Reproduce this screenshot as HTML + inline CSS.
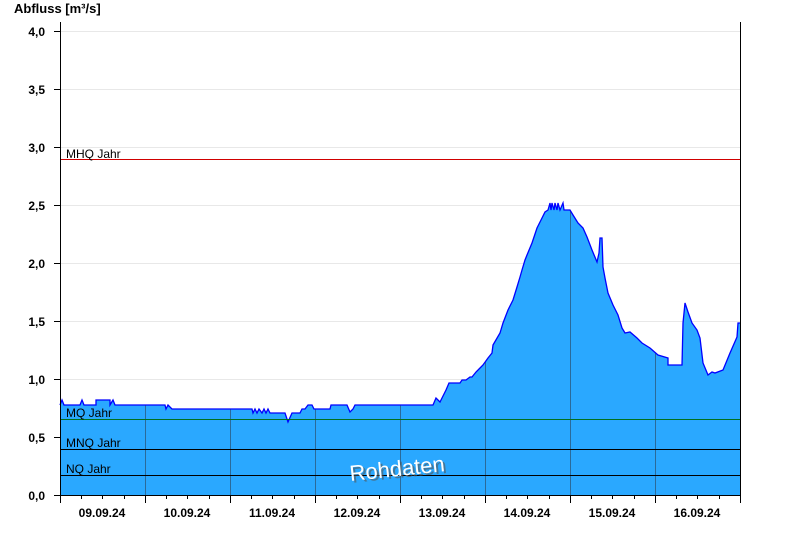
<!DOCTYPE html>
<html><head><meta charset="utf-8"><style>body{margin:0;background:#fff}svg{display:block}</style></head><body>
<svg width="800" height="550" xmlns="http://www.w3.org/2000/svg" font-family="Liberation Sans, Arial, sans-serif">
<defs>
<clipPath id="c"><path id="p" d="M60,495 L60,405 L62,400 L64,405 L80,405 L82,400 L84,405 L96,405 L96,400 L110,400 L110,405 L113,400 L115,405 L165,405 L166,409 L168,405 L172,409 L252,409 L253,413 L255,409 L257,413 L259,409 L262,413 L264,409 L266,413 L268,409 L270,413 L285,413 L288,422 L292,413 L300,413 L302,409 L305,409 L308,405 L312,405 L314,409 L330,409 L331,405 L347,405 L350,412 L353,409 L355,405 L433,405 L436,398 L440,402 L443,396 L446,390 L449,383 L460,383 L462,380 L466,380 L470,377 L472,377 L476,372 L480,368 L483,365 L488,358 L492,353 L493,345 L500,333 L503,323 L508,310 L513,300 L517,287 L520,277 L522,270 L525,260 L527,255 L532,243 L537,228 L542,218 L545,212 L548,210 L550,203 L551,210 L552,203 L554,210 L555,203 L557,210 L558,203 L560,210 L563,203 L564,210 L570,210 L573,215 L578,223 L583,228 L587,237 L592,250 L597,262 L599,253 L600,238 L602,238 L603,267 L605,278 L608,293 L613,305 L618,315 L622,328 L625,333 L630,332 L637,338 L642,343 L650,348 L658,355 L668,358 L668,365 L682,365 L683,323 L685,303 L688,312 L692,323 L697,330 L700,338 L703,363 L708,375 L712,372 L715,373 L723,370 L730,353 L737,337 L738,323 L740,323 L740,495 Z"/></clipPath>
</defs>
<g stroke="#e8e8e8" stroke-width="1">
<line x1="60" y1="437.5" x2="740" y2="437.5"/><line x1="60" y1="379.5" x2="740" y2="379.5"/><line x1="60" y1="321.5" x2="740" y2="321.5"/><line x1="60" y1="263.5" x2="740" y2="263.5"/><line x1="60" y1="205.5" x2="740" y2="205.5"/><line x1="60" y1="147.5" x2="740" y2="147.5"/><line x1="60" y1="89.5" x2="740" y2="89.5"/><line x1="60" y1="31.5" x2="740" y2="31.5"/>
</g>
<use href="#p" fill="#2aa8ff"/>
<g clip-path="url(#c)" stroke="#2a6a9a" stroke-width="1">
<line x1="145.5" y1="0" x2="145.5" y2="495"/><line x1="230.5" y1="0" x2="230.5" y2="495"/><line x1="315.5" y1="0" x2="315.5" y2="495"/><line x1="400.5" y1="0" x2="400.5" y2="495"/><line x1="485.5" y1="0" x2="485.5" y2="495"/><line x1="570.5" y1="0" x2="570.5" y2="495"/><line x1="655.5" y1="0" x2="655.5" y2="495"/>
</g>
<path d="M60,405 L62,400 L64,405 L80,405 L82,400 L84,405 L96,405 L96,400 L110,400 L110,405 L113,400 L115,405 L165,405 L166,409 L168,405 L172,409 L252,409 L253,413 L255,409 L257,413 L259,409 L262,413 L264,409 L266,413 L268,409 L270,413 L285,413 L288,422 L292,413 L300,413 L302,409 L305,409 L308,405 L312,405 L314,409 L330,409 L331,405 L347,405 L350,412 L353,409 L355,405 L433,405 L436,398 L440,402 L443,396 L446,390 L449,383 L460,383 L462,380 L466,380 L470,377 L472,377 L476,372 L480,368 L483,365 L488,358 L492,353 L493,345 L500,333 L503,323 L508,310 L513,300 L517,287 L520,277 L522,270 L525,260 L527,255 L532,243 L537,228 L542,218 L545,212 L548,210 L550,203 L551,210 L552,203 L554,210 L555,203 L557,210 L558,203 L560,210 L563,203 L564,210 L570,210 L573,215 L578,223 L583,228 L587,237 L592,250 L597,262 L599,253 L600,238 L602,238 L603,267 L605,278 L608,293 L613,305 L618,315 L622,328 L625,333 L630,332 L637,338 L642,343 L650,348 L658,355 L668,358 L668,365 L682,365 L683,323 L685,303 L688,312 L692,323 L697,330 L700,338 L703,363 L708,375 L712,372 L715,373 L723,370 L730,353 L737,337 L738,323 L740,323" fill="none" stroke="#0000ff" stroke-width="1.3"/>
<line x1="60" y1="159.5" x2="740" y2="159.5" stroke="#d00000"/>
<line x1="60" y1="419.5" x2="740" y2="419.5" stroke="#007020"/>
<line x1="60" y1="449.5" x2="740" y2="449.5" stroke="#000"/>
<line x1="60" y1="475.5" x2="740" y2="475.5" stroke="#000"/>
<g font-size="12" fill="#000">
<text x="66" y="158">MHQ Jahr</text><text x="66" y="417">MQ Jahr</text><text x="66" y="447">MNQ Jahr</text><text x="66" y="473">NQ Jahr</text>
</g>
<g stroke="#000" stroke-width="1">
<line x1="60.5" y1="22" x2="60.5" y2="495"/><line x1="740.5" y1="22" x2="740.5" y2="495"/>
<line x1="60" y1="495.5" x2="740" y2="495.5"/>
</g>
<g stroke="#000">
<line x1="54" y1="495.5" x2="60" y2="495.5"/><line x1="54" y1="437.5" x2="60" y2="437.5"/><line x1="54" y1="379.5" x2="60" y2="379.5"/><line x1="54" y1="321.5" x2="60" y2="321.5"/><line x1="54" y1="263.5" x2="60" y2="263.5"/><line x1="54" y1="205.5" x2="60" y2="205.5"/><line x1="54" y1="147.5" x2="60" y2="147.5"/><line x1="54" y1="89.5" x2="60" y2="89.5"/><line x1="54" y1="31.5" x2="60" y2="31.5"/>
<path d="M60.5,495V503M145.5,495V503M230.5,495V503M315.5,495V503M400.5,495V503M485.5,495V503M570.5,495V503M655.5,495V503M740.5,495V503"/>
<path d="M81.5,495V499M102.5,495V499M124.5,495V499M166.5,495V499M187.5,495V499M209.5,495V499M251.5,495V499M272.5,495V499M294.5,495V499M336.5,495V499M357.5,495V499M379.5,495V499M421.5,495V499M442.5,495V499M464.5,495V499M506.5,495V499M527.5,495V499M549.5,495V499M591.5,495V499M612.5,495V499M634.5,495V499M676.5,495V499M697.5,495V499M719.5,495V499"/>
</g>
<g font-size="12" font-weight="bold" text-anchor="end">
<text x="45" y="500">0,0</text><text x="45" y="442">0,5</text><text x="45" y="384">1,0</text><text x="45" y="326">1,5</text><text x="45" y="268">2,0</text><text x="45" y="210">2,5</text><text x="45" y="152">3,0</text><text x="45" y="94">3,5</text><text x="45" y="36">4,0</text>
</g>
<g font-size="12" font-weight="bold" text-anchor="middle">
<text x="102" y="517">09.09.24</text><text x="187" y="517">10.09.24</text><text x="272" y="517">11.09.24</text><text x="357" y="517">12.09.24</text><text x="442" y="517">13.09.24</text><text x="527" y="517">14.09.24</text><text x="612" y="517">15.09.24</text><text x="697" y="517">16.09.24</text>
</g>
<text x="14" y="13" font-size="13" font-weight="bold">Abfluss [m³/s]</text>
<g transform="rotate(-6 398 468)" font-size="22" text-anchor="middle">
<text x="399" y="478" fill="#555" opacity="0.6">Rohdaten</text>
<text x="397" y="476" fill="#fff">Rohdaten</text>
</g>
</svg>
</body></html>
